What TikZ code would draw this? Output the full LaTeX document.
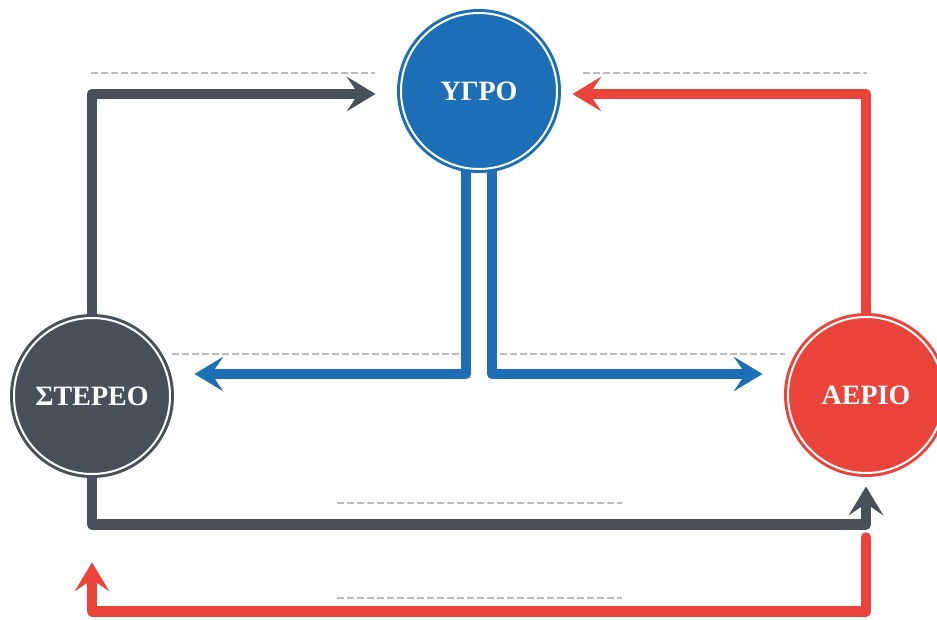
\documentclass[tikz,border=0pt]{standalone}
\usepackage{fontspec}
\setmainfont{Liberation Serif}
\usetikzlibrary{arrows.meta,backgrounds,calc}
\definecolor{cblue}{HTML}{1C6FB7}
\definecolor{cred}{HTML}{E9433A}
\definecolor{cgray}{HTML}{4A505A}
\definecolor{cdash}{HTML}{BDBDBD}
\begin{document}
\begin{tikzpicture}[x=1pt,y=-1pt,
  phase/.style={circle, inner sep=0pt, minimum size=156pt, fill=#1, draw=#1,
    double=white, double distance=2pt, line width=3pt, text=white,
    font=\bfseries\fontsize{28}{31}\selectfont},
  flow/.style={draw=#1, line width=10.5pt, line join=round, line cap=round,
    -{Stealth[length=29pt,width=35pt,inset=12pt,line width=0pt]}},
  guide/.style={draw=cdash, line width=2.4pt, dash pattern=on 7pt off 3pt}]
\useasboundingbox (0,0) rectangle (937,620);
\clip (0,0) rectangle (937,620);

\node[phase=cblue] (yg) at (479,91) {ΥΓΡΟ};
\node[phase=cgray] (st) at (92,396) {ΣΤΕΡΕΟ};
\node[phase=cred] (ae) at (866,395) {ΑΕΡΙΟ};

\begin{scope}[on background layer]
  % guide dashes
  \draw[guide] (91,73) -- (375,73);
  \draw[guide] (583,73) -- (867,73);
  \draw[guide] (172,354) -- (462,354);
  \draw[guide] (500,354) -- (785,354);
  \draw[guide] (337,503) -- (622,503);
  \draw[guide] (337,598) -- (622,598);
  % connectors
  \draw[flow=cgray, shorten >=24pt] (st.north) |- ($(yg.west)+(0,3)$);
  \draw[flow=cred, shorten >=14pt] (ae.north) |- ($(yg.east)+(0,3)$);
  \draw[flow=cblue, shorten >=23pt] ($(yg.south)+(-13,0)$) |- ($(st.east)+(0,-22)$);
  \draw[flow=cblue, shorten >=24pt] ($(yg.south)+(13,0)$) |- ($(ae.west)+(0,-21)$);
  \draw[flow=cgray, shorten >=12pt] (st.south) -- ++(0,49) -| (ae.south);
  \draw[flow=cred, shorten >=87pt] ($(ae.south)+(0,63)$) -- ++(0,74) -| (st.south);
\end{scope}
\end{tikzpicture}
\end{document}
